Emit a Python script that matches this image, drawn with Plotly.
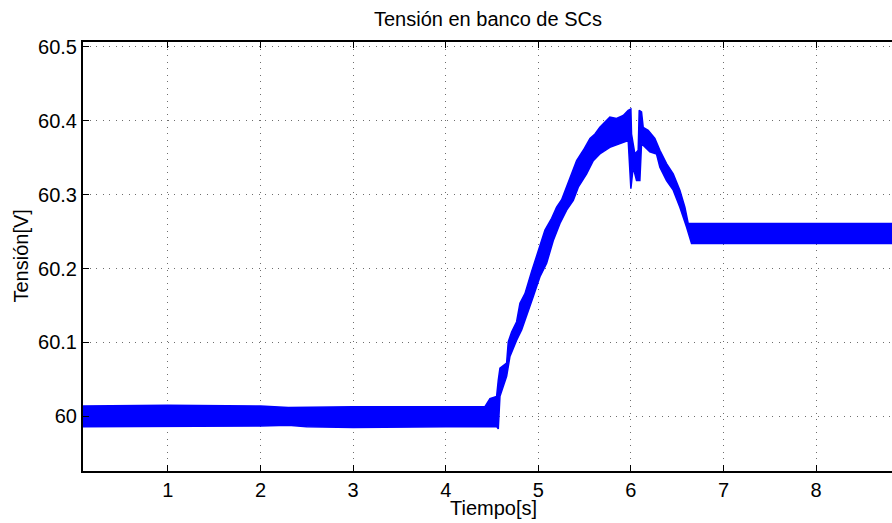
import plotly.graph_objects as go

# Upper envelope of the noisy voltage band: time (s), voltage (V)
t_upper = [0.083, 1.0, 2.0, 2.3, 3.0, 4.0, 4.424, 4.478, 4.550, 4.568, 4.586, 4.658,
           4.676, 4.712, 4.766, 4.802, 4.856, 4.928, 5.0, 5.072, 5.144, 5.198, 5.252,
           5.306, 5.378, 5.414, 5.486, 5.558, 5.612, 5.665, 5.773, 5.845, 5.917,
           5.971, 6.0, 6.007, 6.043, 6.079, 6.09, 6.115, 6.133, 6.187, 6.259, 6.313,
           6.385, 6.457, 6.529, 6.583, 6.619, 8.85]
v_upper = [60.014, 60.015, 60.014, 60.012, 60.013, 60.013, 60.013, 60.024, 60.027,
           60.049, 60.065, 60.072, 60.101, 60.114, 60.128, 60.153, 60.166, 60.196,
           60.225, 60.252, 60.268, 60.283, 60.293, 60.310, 60.333, 60.346, 60.360,
           60.376, 60.382, 60.391, 60.405, 60.403, 60.407, 60.414, 60.416, 60.382,
           60.355, 60.360, 60.414, 60.412, 60.391, 60.387, 60.376, 60.360, 60.342,
           60.328, 60.306, 60.283, 60.261, 60.261]

# Lower envelope of the band
t_lower = [0.083, 1.0, 2.0, 2.3, 2.5, 3.0, 4.0, 4.55, 4.568, 4.586, 4.658, 4.694,
           4.766, 4.820, 4.874, 4.946, 5.018, 5.090, 5.162, 5.234, 5.306, 5.378,
           5.432, 5.522, 5.594, 5.665, 5.773, 5.881, 5.971, 6.0, 6.025, 6.061, 6.097,
           6.115, 6.205, 6.277, 6.313, 6.385, 6.457, 6.529, 6.601, 6.655, 8.85]
v_lower = [59.986, 59.986, 59.987, 59.988, 59.986, 59.985, 59.986, 59.986, 59.983,
           60.027, 60.054, 60.081, 60.103, 60.117, 60.137, 60.162, 60.189, 60.207,
           60.238, 60.261, 60.279, 60.292, 60.310, 60.328, 60.346, 60.355, 60.364,
           60.369, 60.373, 60.308, 60.337, 60.319, 60.319, 60.369, 60.358, 60.355,
           60.337, 60.319, 60.306, 60.283, 60.256, 60.234, 60.234]

x_ticks = [1, 2, 3, 4, 5, 6, 7, 8]
y_ticks = [60.0, 60.1, 60.2, 60.3, 60.4, 60.5]
y_tick_text = ["60", "60.1", "60.2", "60.3", "60.4", "60.5"]

FONT = "Liberation Sans, Arial, Helvetica, sans-serif"
FS = 20
BLUE = "rgb(0,0,255)"

fig = go.Figure()
fig.add_trace(go.Scatter(
    x=t_upper + t_lower[::-1],
    y=v_upper + v_lower[::-1],
    mode="lines",
    fill="toself",
    fillcolor=BLUE,
    line=dict(color=BLUE, width=1.5),
    hoverinfo="skip",
    showlegend=False,
))

W, H = 892, 523
ml, mr, mt, mb = 83, 0, 42, 523 - 471
pw = W - ml - mr
ph = H - mt - mb

grid = dict(showgrid=True, gridcolor="rgb(110,110,110)", gridwidth=1,
            griddash="1px,5.5px")
tick_common = dict(ticks="inside", ticklen=6, tickwidth=1, tickcolor="black",
                   tickfont=dict(family=FONT, size=FS, color="black"))

fig.update_layout(
    width=W, height=H,
    margin=dict(l=ml, r=mr, t=mt, b=mb),
    paper_bgcolor="white", plot_bgcolor="white",
    font=dict(family=FONT, color="black"),
    xaxis=dict(range=[0.083, 8.82], tickvals=x_ticks,
               showline=True, linecolor="black", linewidth=2, mirror="ticks",
               zeroline=False, **grid, **tick_common),
    yaxis=dict(range=[59.926, 60.5065], tickvals=y_ticks, ticktext=y_tick_text,
               showline=True, linecolor="black", linewidth=2, mirror=False,
               zeroline=False, **grid, **tick_common),
    annotations=[
        dict(text="Tensión en banco de SCs", xref="paper", yref="paper",
             x=0.5, y=1 + (mt - 19) / ph, xanchor="center",
             yanchor="middle", showarrow=False,
             font=dict(family=FONT, size=FS, color="black")),
        dict(text="Tiempo[s]", xref="paper", yref="paper",
             x=(493 - ml) / pw, y=-(508 - 471) / ph, xanchor="center",
             yanchor="middle", showarrow=False,
             font=dict(family=FONT, size=FS, color="black")),
        dict(text="Tensión[V]", xref="paper", yref="paper",
             x=-(ml - 20) / pw, y=0.5, xanchor="center",
             yanchor="middle", textangle=-90, showarrow=False,
             font=dict(family=FONT, size=FS, color="black")),
    ],
)

fig.write_html(
    "out.html",
    config={"displayModeBar": False},
    post_script="document.body.style.margin='0';"
                "document.body.style.overflow='hidden';",
)
